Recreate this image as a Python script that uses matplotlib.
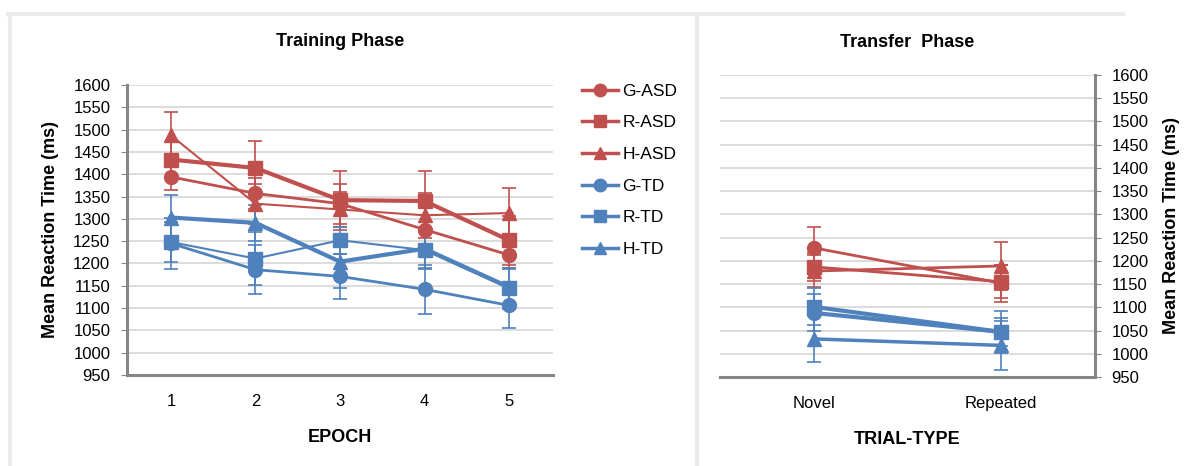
import matplotlib.pyplot as plt
from matplotlib.lines import Line2D

plt.rcParams['font.family'] = ['Liberation Sans', 'DejaVu Sans']

RED = '#C0504D'
BLUE = '#4F81BD'

# training phase data (mean RT in ms per epoch)
epochs = [1, 2, 3, 4, 5]
series_names = ['G-ASD', 'R-ASD', 'H-ASD', 'G-TD', 'R-TD', 'H-TD']
train_g_asd = [1394, 1357, 1334, 1276, 1219]
train_r_asd = [1433, 1414, 1342, 1340, 1252]
train_h_asd = [1487, 1334, 1321, 1308, 1313]
train_g_td = [1245, 1186, 1171, 1142, 1106]
train_r_td = [1248, 1211, 1252, 1230, 1144]
train_h_td = [1303, 1291, 1204, 1233, 1147]
train_err_g_asd = [30, 35, 45, 55, 30]
train_err_r_asd = [40, 60, 66, 68, 55]
train_err_h_asd = [52, 45, 40, 50, 57]
train_err_g_td = [57, 55, 50, 55, 50]
train_err_r_td = [45, 60, 30, 40, 45]
train_err_h_td = [50, 40, 60, 45, 40]

# transfer phase data
trial_types = ['Novel', 'Repeated']
tr_g_asd = [1228, 1152]
tr_r_asd = [1187, 1155]
tr_h_asd = [1178, 1189]
tr_g_td = [1088, 1047]
tr_r_td = [1101, 1047]
tr_h_td = [1032, 1018]
tr_err_g_asd = [44, 40]
tr_err_r_asd = [30, 35]
tr_err_h_asd = [35, 52]
tr_err_g_td = [40, 30]
tr_err_r_td = [40, 45]
tr_err_h_td = [50, 53]

colors = [RED, RED, RED, BLUE, BLUE, BLUE]
markers = ['o', 's', '^', 'o', 's', '^']
widths = [2, 3, 1.5, 2, 1.5, 3]

W, H = 1188, 466
fig = plt.figure(figsize=(W / 100, H / 100), dpi=100)


def px(l, t, r, b):
    return [l / W, 1 - b / H, (r - l) / W, (b - t) / H]


# chart area frames (only top and left edges are visible)
frame = dict(color='#EBEBEB', linewidth=3, transform=fig.transFigure)
fig.add_artist(Line2D([8 / W, 1123 / W], [1 - 14 / H] * 2, **frame))
fig.add_artist(Line2D([9.5 / W] * 2, [0, 1 - 14 / H], **frame))
fig.add_artist(Line2D([697 / W] * 2, [0, 1 - 14 / H], **frame))


def style_axes(ax, side):
    for s in ['top', 'right', 'left', 'bottom']:
        ax.spines[s].set_visible(False)
    ax.spines['bottom'].set_visible(True)
    ax.spines[side].set_visible(True)
    for s in ['bottom', side]:
        ax.spines[s].set_color('#868686')
        ax.spines[s].set_linewidth(2.2)
    ax.set_ylim(950, 1600)
    ax.set_yticks(range(950, 1601, 50))
    ax.yaxis.grid(True, color='#D9D9D9', linewidth=1.3)
    ax.set_axisbelow(True)
    ax.tick_params(axis='y', length=4, color='#868686', labelsize=12, pad=8)
    ax.tick_params(axis='x', length=0, labelsize=12, pad=14)


# training phase
ax1 = fig.add_axes(px(127, 85, 553, 375))
style_axes(ax1, 'left')
train_means = [train_g_asd, train_r_asd, train_h_asd, train_g_td, train_r_td, train_h_td]
train_errs = [train_err_g_asd, train_err_r_asd, train_err_h_asd,
              train_err_g_td, train_err_r_td, train_err_h_td]
for m, e, c, mk, lw in zip(train_means, train_errs, colors, markers, widths):
    ax1.errorbar(epochs, m, yerr=e, color=c, marker=mk, markersize=10, linewidth=lw,
                 elinewidth=1.2, capsize=5, capthick=1.2, ecolor=c)
ax1.set_xlim(0.48, 5.52)
ax1.set_xticks(epochs)
ax1.set_title('Training Phase', fontsize=13, fontweight='bold', pad=28)
ax1.set_xlabel('EPOCH', fontsize=13, fontweight='bold', labelpad=14)
ax1.set_ylabel('Mean Reaction Time (ms)', fontsize=13, fontweight='bold', labelpad=10)

# transfer phase
ax2 = fig.add_axes(px(720, 75, 1095, 377))
style_axes(ax2, 'right')
ax2.yaxis.tick_right()
ax2.yaxis.set_label_position('right')
tr_means = [tr_g_asd, tr_r_asd, tr_h_asd, tr_g_td, tr_r_td, tr_h_td]
tr_errs = [tr_err_g_asd, tr_err_r_asd, tr_err_h_asd,
           tr_err_g_td, tr_err_r_td, tr_err_h_td]
tr_widths = [2, 2, 2, 3, 3, 2.5]
x_tr = list(range(len(trial_types)))
for m, e, c, mk, lw in zip(tr_means, tr_errs, colors, markers, tr_widths):
    ax2.errorbar(x_tr, m, yerr=e, color=c, marker=mk, markersize=10, linewidth=lw,
                 elinewidth=1.2, capsize=5, capthick=1.2, ecolor=c)
ax2.set_xlim(-0.5, 1.5)
ax2.set_xticks(x_tr)
ax2.set_xticklabels(trial_types)
ax2.set_title('Transfer  Phase', fontsize=13, fontweight='bold', pad=20)
ax2.set_xlabel('TRIAL-TYPE', fontsize=13, fontweight='bold', labelpad=14)
ax2.set_ylabel('Mean Reaction Time (ms)', fontsize=13, fontweight='bold', labelpad=10)

# legend
handles = [Line2D([0], [0], color=c, marker=mk, markersize=9, linewidth=2.5)
           for c, mk in zip(colors, markers)]
fig.legend(handles, series_names, loc='upper left',
           bbox_to_anchor=(566 / W, 1 - 68 / H), frameon=False, fontsize=12.5,
           handlelength=2.1, handletextpad=0.25, labelspacing=0.95)

fig.savefig('out.png', dpi=100)
